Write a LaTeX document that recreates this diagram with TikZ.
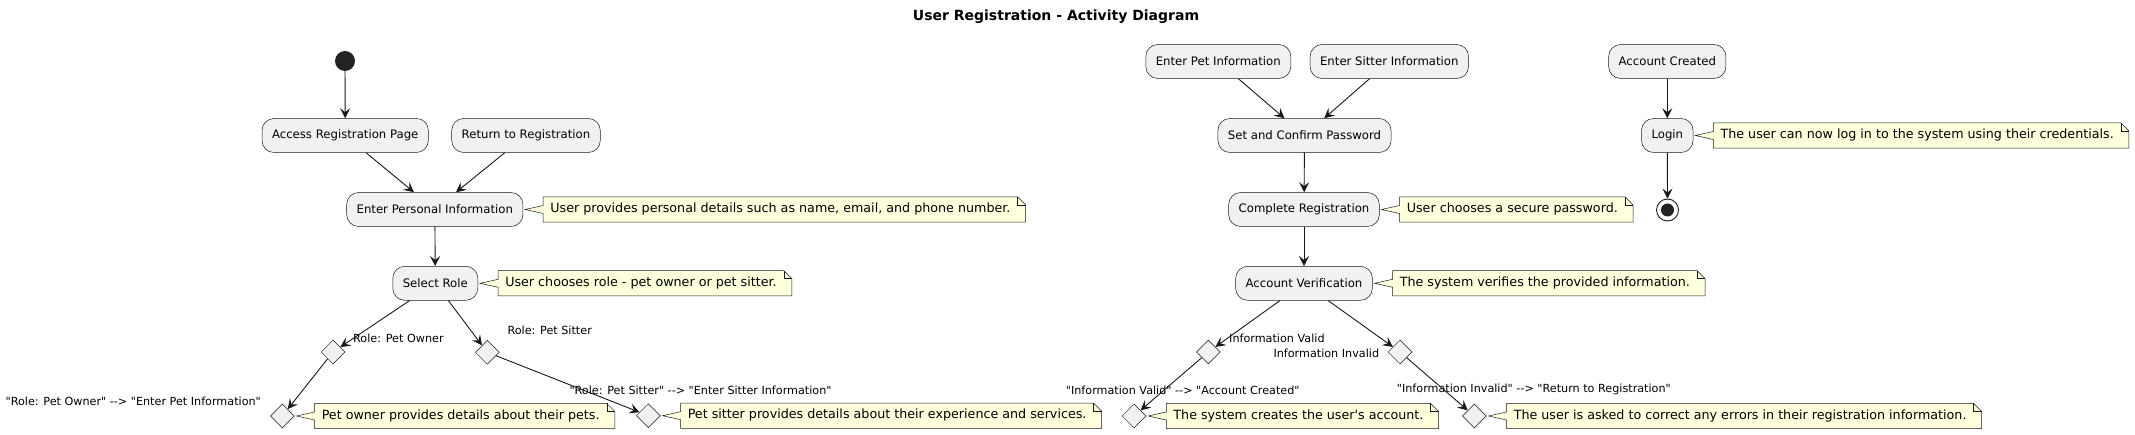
\documentclass[tikz,border=0pt]{standalone}
\usepackage{fontspec}
\newfontfamily\umlfont{DejaVu Sans}
\usetikzlibrary{positioning,shapes.geometric,arrows.meta,backgrounds}

\definecolor{actfill}{HTML}{F1F1F1}
\definecolor{linecol}{HTML}{181818}
\definecolor{notefill}{HTML}{FEFFDD}
\definecolor{dotcol}{HTML}{222222}

\tikzset{
  activity/.style={draw=linecol, line width=0.5pt, fill=actfill, rounded corners=12pt,
    minimum height=34pt, inner xsep=10pt, font=\umlfont\fontsize{11.7}{14}\selectfont},
  branch/.style={diamond, draw=linecol, line width=0.5pt, fill=actfill, minimum size=24pt, inner sep=0pt},
  notetext/.style={inner xsep=7pt, inner ysep=6pt, text height=9.6pt, text depth=3.2pt,
    font=\umlfont\fontsize{12.7}{15}\selectfont},
  guard/.style={inner sep=0pt, font=\umlfont\fontsize{11.2}{13}\selectfont},
  flow/.style={draw=linecol, line width=0.9pt, -{Stealth[length=10pt,width=10pt,inset=4pt]}},
}

\begin{document}
\begin{tikzpicture}[x=1pt, y=-1pt]
    \useasboundingbox (0,0) rectangle (2135,435);

    % Title
    \node[font=\umlfont\fontsize{14}{16}\selectfont\bfseries] (title) at (1056,17) {User Registration - Activity Diagram};

    % Left column
    \node[circle, fill=dotcol, minimum size=20pt, inner sep=0pt] (start) at (345,61) {};
    \node[activity] (access) at (345.2,135.5) {Access Registration Page};
    \node[activity] (back) at (526,135.5) {Return to Registration};
    \node[activity] (personal) at (434.8,209.5) {Enter Personal Information};
    \node[activity] (role) at (435.3,283.3) {Select Role};

    % Role branches
    \node[branch] (owner) at (333,352) {};
    \node[branch] (sitter) at (487.3,352.3) {};
    \node[branch] (owner2) at (282.3,416) {};
    \node[branch] (sitter2) at (648.3,415.7) {};

    % Middle column
    \node[activity] (petinfo) at (1218.3,61.5) {Enter Pet Information};
    \node[activity] (sitterinfo) at (1389.3,61.5) {Enter Sitter Information};
    \node[activity] (password) at (1304.5,135.5) {Set and Confirm Password};
    \node[activity] (complete) at (1304,209.5) {Complete Registration};
    \node[activity] (verify) at (1304,283.3) {Account Verification};

    % Verification branches
    \node[branch] (valid) at (1208.3,352) {};
    \node[branch] (invalid) at (1400,352) {};
    \node[branch] (valid2) at (1134,416) {};
    \node[branch] (invalid2) at (1474.3,416) {};

    % Right column
    \node[activity] (created) at (1667.3,61.5) {Account Created};
    \node[activity] (login) at (1667.3,135.5) {Login};
    \node[circle, draw=linecol, line width=0.9pt, minimum size=22pt, inner sep=0pt] (stop) at (1667.5,210) {};
    \node[circle, fill=dotcol, minimum size=13pt, inner sep=0pt] (stopdot) at (stop) {};

    % Notes
    \node[notetext, right=20pt of personal] (npersonal) {User provides personal details such as name, email, and phone number.};
    \node[notetext, right=20pt of role] (nrole) {User chooses role - pet owner or pet sitter.};
    \node[notetext, right=20pt of owner2] (nowner) {Pet owner provides details about their pets.};
    \node[notetext, right=20pt of sitter2] (nsitter) {Pet sitter provides details about their experience and services.};
    \node[notetext, right=20pt of complete] (ncomplete) {User chooses a secure password.};
    \node[notetext, right=20pt of verify] (nverify) {The system verifies the provided information.};
    \node[notetext, right=20pt of valid2] (nvalid) {The system creates the user's account.};
    \node[notetext, right=20pt of invalid2] (ninvalid) {The user is asked to correct any errors in their registration information.};
    \node[notetext, right=20pt of login] (nlogin) {The user can now log in to the system using their credentials.};

    % Guard labels
    \node[guard, anchor=west] (lowner) at (353,338) {Role: Pet Owner};
    \node[guard, anchor=west] (lsitter) at (507.3,330) {Role: Pet Sitter};
    \node[guard, anchor=west] (lowner2) at (5.4,401.7) {"Role: Pet Owner" --> "Enter Pet Information"};
    \node[guard, anchor=west] (lsitter2) at (569.3,390) {"Role: Pet Sitter" --> "Enter Sitter Information"};
    \node[guard, anchor=west] (lvalid) at (1229,338.3) {Information Valid};
    \node[guard, anchor=east] (linvalid) at (1379.3,353.3) {Information Invalid};
    \node[guard, anchor=west] (lvalid2) at (1065.7,390) {"Information Valid" --> "Account Created"};
    \node[guard, anchor=west] (linvalid2) at (1396.7,389) {"Information Invalid" --> "Return to Registration"};

    % Note shapes with folded corner and tail
    \begin{scope}[on background layer]
        \foreach \n/\t in {npersonal/personal, nrole/role, nowner/owner2, nsitter/sitter2,
            ncomplete/complete, nverify/verify, nvalid/valid2, ninvalid/invalid2, nlogin/login} {
            \filldraw[draw=linecol, line width=0.5pt, fill=notefill]
                (\n.south west) -- ([yshift=-4pt]\n.west) -- ([xshift=2pt]\t.east)
                -- ([yshift=4pt]\n.west) -- (\n.north west) -- (\n.north east)
                -- ([xshift=8pt,yshift=-8pt]\n.north east) -- ([xshift=8pt]\n.south east) -- cycle;
            \draw[linecol, line width=0.5pt] (\n.north east) -- ([yshift=-8pt]\n.north east)
                -- ([xshift=8pt,yshift=-8pt]\n.north east);
        }
    \end{scope}

    % Draw lines
    \draw[flow] (start) -- (access);
    \draw[flow] (access) -- (personal);
    \draw[flow] (back) -- (personal);
    \draw[flow] (personal) -- (role);
    \draw[flow] (role) -- (owner);
    \draw[flow] (role) -- (sitter);
    \draw[flow] (owner) -- (owner2);
    \draw[flow] (sitter) -- (sitter2);

    \draw[flow] (petinfo) -- (password);
    \draw[flow] (sitterinfo) -- (password);
    \draw[flow] (password) -- (complete);
    \draw[flow] (complete) -- (verify);
    \draw[flow] (verify) -- (valid);
    \draw[flow] (verify) -- (invalid);
    \draw[flow] (valid) -- (valid2);
    \draw[flow] (invalid) -- (invalid2);

    \draw[flow] (created) -- (login);
    \draw[flow] (login) -- (stop);
\end{tikzpicture}
\end{document}
